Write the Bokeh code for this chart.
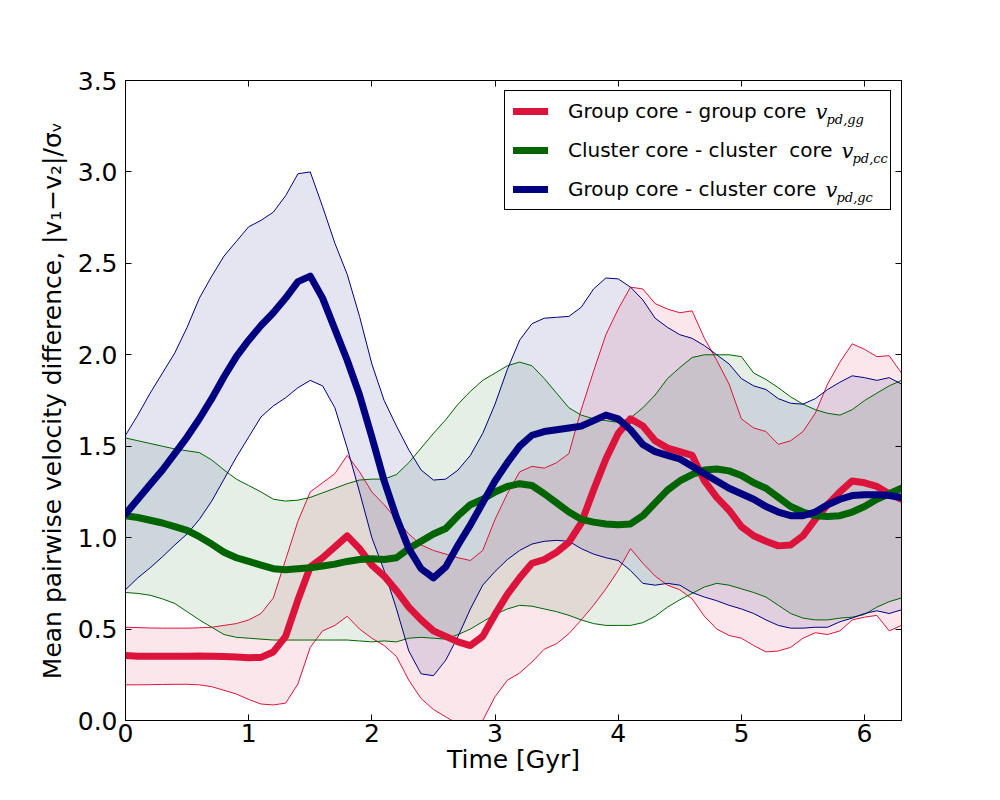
from bokeh.plotting import figure
from bokeh.models import Range1d, LinearAxis, FixedTicker, Legend, LegendItem, PrintfTickFormatter
from bokeh.core.properties import value
from bokeh.embed import file_html
from bokeh.resources import INLINE

# ---- data (Gyr, every 0.1) ----
time = [round(0.1 * i, 1) for i in range(64)]

gg_mean = [0.355, 0.352, 0.352, 0.352, 0.352, 0.352, 0.353, 0.352, 0.350, 0.347,
           0.343, 0.345, 0.375, 0.46, 0.66, 0.84, 0.89, 0.95, 1.01, 0.94,
           0.85, 0.79, 0.71, 0.62, 0.55, 0.49, 0.46, 0.43, 0.41, 0.46,
           0.58, 0.69, 0.78, 0.86, 0.88, 0.92, 0.975, 1.08, 1.26, 1.43,
           1.57, 1.65, 1.61, 1.53, 1.49, 1.47, 1.45, 1.31, 1.22, 1.15,
           1.06, 1.01, 0.98, 0.955, 0.96, 1.01, 1.10, 1.18, 1.25, 1.31,
           1.30, 1.28, 1.24, 1.21]
gg_upper = [0.51, 0.508, 0.506, 0.505, 0.505, 0.505, 0.507, 0.51, 0.52, 0.53,
            0.55, 0.585, 0.67, 0.88, 1.09, 1.25, 1.30, 1.35, 1.45, 1.36,
            1.25, 1.18, 1.10, 1.02, 0.96, 0.93, 0.91, 0.89, 0.875, 0.93,
            1.10, 1.24, 1.36, 1.39, 1.38, 1.41, 1.46, 1.70, 1.91, 2.11,
            2.25, 2.37, 2.36, 2.28, 2.25, 2.23, 2.24, 2.09, 1.97, 1.84,
            1.65, 1.60, 1.58, 1.51, 1.53, 1.58, 1.68, 1.84, 1.96, 2.06,
            2.03, 1.99, 1.995, 1.90]
gg_lower = [0.195, 0.195, 0.196, 0.197, 0.198, 0.198, 0.195, 0.185, 0.165, 0.145,
            0.115, 0.09, 0.085, 0.095, 0.20, 0.40, 0.49, 0.52, 0.57, 0.50,
            0.45, 0.41, 0.35, 0.22, 0.12, 0.06, 0.02, -0.02, -0.04, 0.0,
            0.13, 0.22, 0.26, 0.32, 0.39, 0.42, 0.475, 0.55, 0.63, 0.72,
            0.82, 0.94, 0.86, 0.79, 0.74, 0.715, 0.665, 0.57, 0.50, 0.465,
            0.45, 0.41, 0.375, 0.38, 0.40, 0.45, 0.48, 0.47, 0.49, 0.55,
            0.565, 0.575, 0.49, 0.52]

cc_mean = [1.12, 1.11, 1.095, 1.08, 1.06, 1.04, 1.005, 0.965, 0.92, 0.89,
           0.87, 0.85, 0.83, 0.825, 0.83, 0.835, 0.845, 0.855, 0.87, 0.88,
           0.885, 0.88, 0.89, 0.94, 0.98, 1.02, 1.05, 1.12, 1.18, 1.21,
           1.25, 1.28, 1.295, 1.285, 1.24, 1.19, 1.14, 1.10, 1.085, 1.075,
           1.07, 1.075, 1.12, 1.19, 1.26, 1.31, 1.345, 1.37, 1.375, 1.365,
           1.34, 1.30, 1.27, 1.22, 1.17, 1.14, 1.12, 1.115, 1.12, 1.14,
           1.17, 1.21, 1.24, 1.27]
cc_upper = [1.545, 1.53, 1.515, 1.50, 1.485, 1.475, 1.465, 1.425, 1.37, 1.32,
            1.285, 1.25, 1.21, 1.20, 1.205, 1.22, 1.245, 1.27, 1.295, 1.315,
            1.32, 1.32, 1.345, 1.41, 1.49, 1.57, 1.645, 1.73, 1.80, 1.86,
            1.90, 1.94, 1.96, 1.94, 1.87, 1.79, 1.71, 1.67, 1.65, 1.64,
            1.63, 1.655, 1.71, 1.78, 1.87, 1.93, 1.985, 2.0, 2.0, 2.0,
            1.99, 1.90, 1.865, 1.82, 1.77, 1.73, 1.70, 1.68, 1.67, 1.70,
            1.75, 1.79, 1.83, 1.86]
cc_lower = [0.70, 0.695, 0.685, 0.665, 0.64, 0.595, 0.55, 0.51, 0.47, 0.455,
            0.45, 0.445, 0.44, 0.44, 0.44, 0.44, 0.44, 0.44, 0.44, 0.435,
            0.43, 0.435, 0.43, 0.45, 0.455, 0.45, 0.445, 0.47, 0.50, 0.54,
            0.58, 0.61, 0.63, 0.625, 0.61, 0.595, 0.575, 0.55, 0.53, 0.52,
            0.52, 0.52, 0.535, 0.57, 0.62, 0.66, 0.695, 0.73, 0.75, 0.74,
            0.72, 0.70, 0.675, 0.63, 0.585, 0.56, 0.55, 0.55, 0.56, 0.565,
            0.58, 0.62, 0.65, 0.67]

gc_mean = [1.13, 1.21, 1.29, 1.37, 1.46, 1.55, 1.65, 1.76, 1.88, 1.99,
           2.08, 2.16, 2.23, 2.31, 2.40, 2.43, 2.31, 2.14, 1.97, 1.78,
           1.55, 1.31, 1.11, 0.94, 0.83, 0.78, 0.84, 0.96, 1.07, 1.19,
           1.31, 1.41, 1.50, 1.56, 1.58, 1.59, 1.60, 1.61, 1.64, 1.67,
           1.65, 1.59, 1.51, 1.47, 1.45, 1.43, 1.39, 1.35, 1.31, 1.27,
           1.24, 1.21, 1.17, 1.14, 1.12, 1.12, 1.14, 1.18, 1.21, 1.23,
           1.235, 1.235, 1.23, 1.22]
gc_upper = [1.56, 1.67, 1.79, 1.90, 2.01, 2.15, 2.31, 2.43, 2.54, 2.62,
            2.70, 2.735, 2.78, 2.87, 2.99, 3.00, 2.81, 2.61, 2.44, 2.21,
            1.95, 1.75, 1.61, 1.48, 1.37, 1.315, 1.32, 1.37, 1.45, 1.57,
            1.73, 1.92, 2.08, 2.17, 2.20, 2.205, 2.21, 2.26, 2.36, 2.42,
            2.415, 2.37, 2.30, 2.20, 2.15, 2.11, 2.09, 2.05, 2.00, 1.95,
            1.87, 1.83, 1.81, 1.76, 1.735, 1.73, 1.76, 1.81, 1.85, 1.885,
            1.875, 1.86, 1.875, 1.84]
gc_lower = [0.715, 0.78, 0.835, 0.895, 0.96, 1.02, 1.10, 1.20, 1.32, 1.44,
            1.55, 1.66, 1.72, 1.765, 1.82, 1.86, 1.83, 1.71, 1.49, 1.25,
            1.00, 0.82, 0.61, 0.38, 0.255, 0.245, 0.33, 0.46, 0.61, 0.74,
            0.815, 0.88, 0.93, 0.965, 0.98, 0.985, 0.98, 0.94, 0.91, 0.89,
            0.875, 0.82, 0.75, 0.74, 0.75, 0.74, 0.70, 0.675, 0.655, 0.63,
            0.61, 0.585, 0.55, 0.52, 0.505, 0.505, 0.51, 0.51, 0.54, 0.56,
            0.585, 0.60, 0.585, 0.605]

series_labels = ["Group core - group core", "Cluster core - cluster  core", "Group core - cluster core"]
series_subs = ["pd,gg", "pd,cc", "pd,gc"]
series_colors = ["crimson", "darkgreen", "navy"]
x_ticks = [0, 1, 2, 3, 4, 5, 6]
y_ticks = [0.0, 0.5, 1.0, 1.5, 2.0, 2.5, 3.0, 3.5]

FONT = "DejaVu Sans"

p = figure(width=984, height=784, output_backend="svg", toolbar_location=None,
           x_range=Range1d(0, 6.3), y_range=Range1d(0, 3.5),
           min_border_left=125, min_border_right=83, min_border_top=80, min_border_bottom=64)
p.grid.visible = False
p.background_fill_color = "white"
p.border_fill_color = "white"
p.outline_line_color = "black"
p.outline_line_width = 1

xax = p.below[0]
yax = p.left[0]

means = [gg_mean, cc_mean, gc_mean]
uppers = [gg_upper, cc_upper, gc_upper]
lowers = [gg_lower, cc_lower, gc_lower]

for lo, up, c in zip(lowers, uppers, series_colors):
    p.varea(x=time, y1=lo, y2=up, fill_color=c, fill_alpha=0.1)
for lo, up, c in zip(lowers, uppers, series_colors):
    p.line(time, up, line_color=c, line_width=1, line_join="round")
    p.line(time, lo, line_color=c, line_width=1, line_join="round")

mean_renderers = []
for m, c in zip(means, series_colors):
    r = p.line(time, m, line_color=c, line_width=7, line_join="round", line_cap="round")
    mean_renderers.append(r)

# axes
xax.ticker = FixedTicker(ticks=x_ticks)
yax.ticker = FixedTicker(ticks=y_ticks)
yax.formatter = PrintfTickFormatter(format="%.1f")
xax.axis_label = "Time [Gyr]"
yax.axis_label = "Mean pairwise velocity difference, |v\u2081\u2212v\u2082|/\u03c3\u1d65"

top_ax = LinearAxis(ticker=FixedTicker(ticks=x_ticks))
right_ax = LinearAxis(ticker=FixedTicker(ticks=y_ticks))
p.add_layout(top_ax, "above")
p.add_layout(right_ax, "right")

for ax in [xax, yax, top_ax, right_ax]:
    ax.major_tick_in = 6
    ax.major_tick_out = 0
    ax.minor_tick_in = 0
    ax.minor_tick_out = 0
    ax.axis_line_color = "black"
    ax.major_tick_line_color = "black"
    ax.major_label_text_font = FONT
    ax.major_label_text_font_size = "25px"
    ax.major_label_text_color = "black"
    ax.axis_label_text_font = FONT
    ax.axis_label_text_font_size = "25px"
    ax.axis_label_text_font_style = "normal"
    ax.axis_label_text_color = "black"

xax.major_label_standoff = 3
xax.axis_label_standoff = 0
yax.major_label_standoff = 8
yax.axis_label_standoff = 8
for ax in [top_ax, right_ax]:
    ax.major_label_text_font_size = "0px"
    ax.major_label_text_alpha = 0

legend = Legend(items=[LegendItem(label=l, renderers=[r]) for l, r in zip(series_labels, mean_renderers)],
                location="top_right", margin=10, padding=8, spacing=15,
                glyph_width=35, glyph_height=20, label_standoff=20, label_width=314,
                label_text_font=FONT, label_text_font_size="20px", label_text_color="black",
                border_line_color="black", border_line_width=1, border_line_alpha=1,
                background_fill_color="white", background_fill_alpha=0)
p.add_layout(legend)

# math parts of the legend labels (v with subscripts)
def dx(px):
    return (px - 125) / 123.0

def dy(py):
    return (720 - py) / (640 / 3.5)

v_px = [814, 840, 824]
row_py = [110, 149, 188]
p.text(x=[dx(v) for v in v_px], y=[dy(r + 1) for r in row_py], text=["v", "v", "v"],
       text_font=value("DejaVu Serif"), text_font_style="italic", text_font_size="21px",
       text_baseline="middle", text_align="left", text_color="black", level="overlay")
p.text(x=[dx(v + 11) for v in v_px], y=[dy(r + 9) for r in row_py], text=series_subs,
       text_font=value("DejaVu Serif"), text_font_style="italic", text_font_size="13px",
       text_baseline="middle", text_align="left", text_color="black", level="overlay")

open("out.html", "w").write(file_html(p, INLINE))
